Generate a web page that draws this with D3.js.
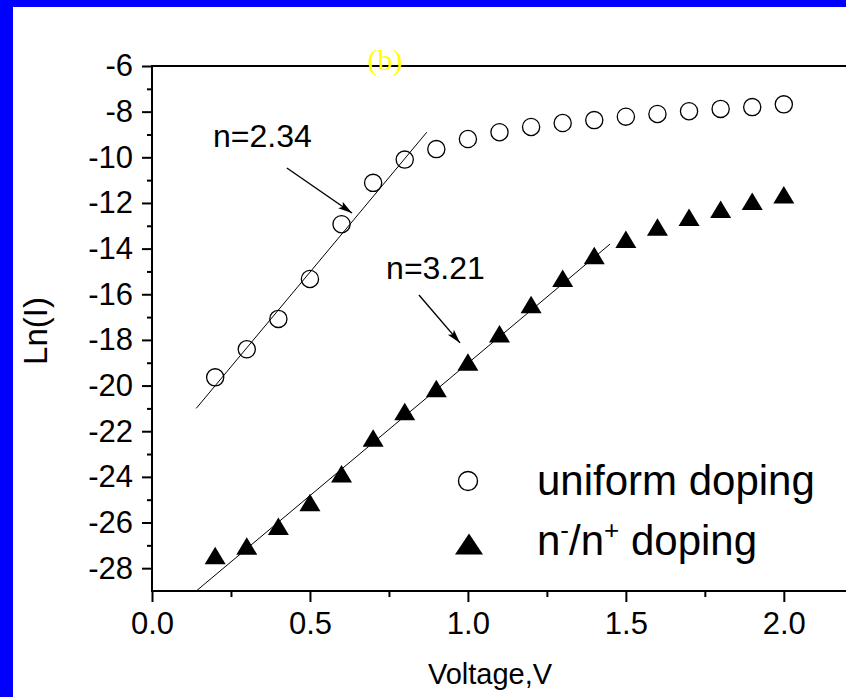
<!DOCTYPE html>
<html>
<head>
<meta charset="utf-8">
<script src="https://cdn.jsdelivr.net/npm/d3@7/dist/d3.min.js"></script>
<style>
  html, body { margin: 0; padding: 0; background: #0000ff; }
  svg { display: block; }
  text { font-family: "Liberation Sans", Arial, sans-serif; }
</style>
</head>
<body>
<script>
// Forward-bias I–V characteristics, ln(I) versus voltage
const voltage = [0.2, 0.3, 0.4, 0.5, 0.6, 0.7, 0.8, 0.9, 1.0, 1.1, 1.2, 1.3, 1.4, 1.5, 1.6, 1.7, 1.8, 1.9, 2.0];
const uniformLnI = [-19.64, -18.41, -17.08, -15.33, -12.93, -11.12, -10.10, -9.64, -9.20, -8.90, -8.67, -8.50, -8.37, -8.22, -8.10, -7.98, -7.88, -7.80, -7.68];
const stepLnI = [-27.45, -27.03, -26.16, -25.12, -23.86, -22.30, -21.14, -20.13, -18.97, -17.73, -16.45, -15.30, -14.30, -13.59, -13.05, -12.63, -12.28, -11.93, -11.64];

// Straight-line fits over the exponential region (endpoints in V, ln I)
const uniformFit = [[0.14, -21.0], [0.87, -8.9]];
const stepFit = [[0.14, -29.0], [1.45, -13.8]];

// Ideality-factor annotations: label position and arrow start/end
const fitNotes = [
  { label: "n=2.34", at: [0.193, -9.53], from: [0.427, -10.47], to: [0.633, -12.44] },
  { label: "n=3.21", at: [0.741, -15.33], from: [0.845, -16.03], to: [0.975, -18.13] }
];

const xMajor = [0, 0.5, 1.0, 1.5, 2.0];
const xMinor = [0.25, 0.75, 1.25, 1.75];
const yMajor = [-6, -8, -10, -12, -14, -16, -18, -20, -22, -24, -26, -28];
const yMinor = [-7, -9, -11, -13, -15, -17, -19, -21, -23, -25, -27];

const W = 846, H = 697;
const svg = d3.select("body").append("svg").attr("width", W).attr("height", H);

// Blue frame with white page
svg.append("rect").attr("width", W).attr("height", H).attr("fill", "#0000ff");
svg.append("rect").attr("x", 13).attr("y", 7).attr("width", W - 13).attr("height", H - 7).attr("fill", "#ffffff");

const x = d3.scaleLinear().domain([0, 2.2]).range([152, 847]);
const y = d3.scaleLinear().domain([-29, -6]).range([591, 66]);

// Axes
const gx = svg.append("g").attr("transform", `translate(0,${y(-29)})`);
gx.call(d3.axisBottom(x).tickValues(xMajor).tickSize(11).tickPadding(10).tickFormat(d => d.toFixed(1)));
const gxm = svg.append("g").attr("transform", `translate(0,${y(-29)})`);
gxm.call(d3.axisBottom(x).tickValues(xMinor).tickSize(6).tickFormat(""));

const gy = svg.append("g").attr("transform", `translate(${x(0)},0)`);
gy.call(d3.axisLeft(y).tickValues(yMajor).tickSize(10).tickPadding(9).tickFormat(d => String(d)));
const gym = svg.append("g").attr("transform", `translate(${x(0)},0)`);
gym.call(d3.axisLeft(y).tickValues(yMinor).tickSize(5).tickFormat(""));

[gx, gxm, gy, gym].forEach(g => {
  g.select(".domain").remove();
  g.selectAll(".tick line").attr("stroke", "#000").attr("stroke-width", 2);
  g.selectAll(".tick text").attr("fill", "#000").style("font-family", "'Liberation Sans', Arial, sans-serif").style("font-size", "31px");
});

// Axis lines: bottom, left and top frame edge
svg.append("line").attr("x1", x(0) - 1).attr("x2", W).attr("y1", y(-29)).attr("y2", y(-29)).attr("stroke", "#000").attr("stroke-width", 2);
svg.append("line").attr("x1", x(0)).attr("x2", x(0)).attr("y1", y(-6) - 1).attr("y2", y(-29) + 1).attr("stroke", "#000").attr("stroke-width", 2);
svg.append("line").attr("x1", x(0) - 1).attr("x2", W).attr("y1", y(-6)).attr("y2", y(-6)).attr("stroke", "#000").attr("stroke-width", 2);

// Fit lines
const line = d3.line().x(d => x(d[0])).y(d => y(d[1]));
[uniformFit, stepFit].forEach(seg => {
  svg.append("path").attr("d", line(seg)).attr("fill", "none").attr("stroke", "#000").attr("stroke-width", 1);
});

// Flattened triangle marker centred on its bounding box
function triangle(w, h) {
  return {
    draw(ctx) {
      ctx.moveTo(0, -h / 2);
      ctx.lineTo(w / 2, h / 2);
      ctx.lineTo(-w / 2, h / 2);
      ctx.closePath();
    }
  };
}

// Uniform doping: open circles
svg.append("g").selectAll("circle").data(voltage.map((v, i) => [v, uniformLnI[i]]))
  .join("circle")
  .attr("cx", d => x(d[0])).attr("cy", d => y(d[1])).attr("r", 8.6)
  .attr("fill", "none").attr("stroke", "#000").attr("stroke-width", 1.3);

// n-/n+ doping: filled triangles
const triSym = d3.symbol().type(triangle(21, 17.5));
svg.append("g").selectAll("path").data(voltage.map((v, i) => [v, stepLnI[i]]))
  .join("path")
  .attr("d", triSym())
  .attr("transform", d => `translate(${x(d[0])},${y(d[1])})`)
  .attr("fill", "#000");

// Ideality-factor arrows and labels
const defs = svg.append("defs");
defs.append("marker").attr("id", "head").attr("viewBox", "0 0 14 10")
  .attr("refX", 14).attr("refY", 5).attr("markerWidth", 14).attr("markerHeight", 10)
  .attr("markerUnits", "userSpaceOnUse").attr("orient", "auto")
  .append("path").attr("d", "M0,1 L14,5 L0,9 L3,5 Z").attr("fill", "#000");

fitNotes.forEach(n => {
  svg.append("line")
    .attr("x1", x(n.from[0])).attr("y1", y(n.from[1]))
    .attr("x2", x(n.to[0])).attr("y2", y(n.to[1]))
    .attr("stroke", "#000").attr("stroke-width", 1.4).attr("marker-end", "url(#head)");
  svg.append("text").attr("x", x(n.at[0])).attr("y", y(n.at[1]))
    .attr("font-size", 32).attr("fill", "#000").text(n.label);
});

// Legend
svg.append("circle").attr("cx", 468).attr("cy", 481).attr("r", 9.5)
  .attr("fill", "none").attr("stroke", "#000").attr("stroke-width", 1.4);
svg.append("path").attr("d", d3.symbol().type(triangle(28, 21))())
  .attr("transform", "translate(469,544)").attr("fill", "#000");
svg.append("text").attr("x", 537).attr("y", 495).attr("font-size", 42).attr("fill", "#000").text("uniform doping");
const t2 = svg.append("text").attr("x", 537).attr("y", 555).attr("font-size", 42).attr("fill", "#000");
t2.append("tspan").text("n");
t2.append("tspan").attr("font-size", 26).attr("dy", -16).text("-");
t2.append("tspan").attr("dy", 16).text("/n");
t2.append("tspan").attr("font-size", 26).attr("dy", -16).text("+");
t2.append("tspan").attr("dy", 16).text(" doping");

// Axis titles
svg.append("text").attr("x", 490).attr("y", 684).attr("text-anchor", "middle")
  .attr("font-size", 29).attr("fill", "#000").text("Voltage,V");
svg.append("text").attr("transform", "translate(47,331) rotate(-90)").attr("text-anchor", "middle")
  .attr("font-size", 33).attr("fill", "#000").text("Ln(I)");

// Panel tag
svg.append("text").attr("x", 385).attr("y", 70).attr("text-anchor", "middle")
  .style("font-family", "'Liberation Serif', 'Times New Roman', serif")
  .attr("font-size", 30).attr("fill", "#ffff00").text("(b)");
</script>
</body>
</html>
